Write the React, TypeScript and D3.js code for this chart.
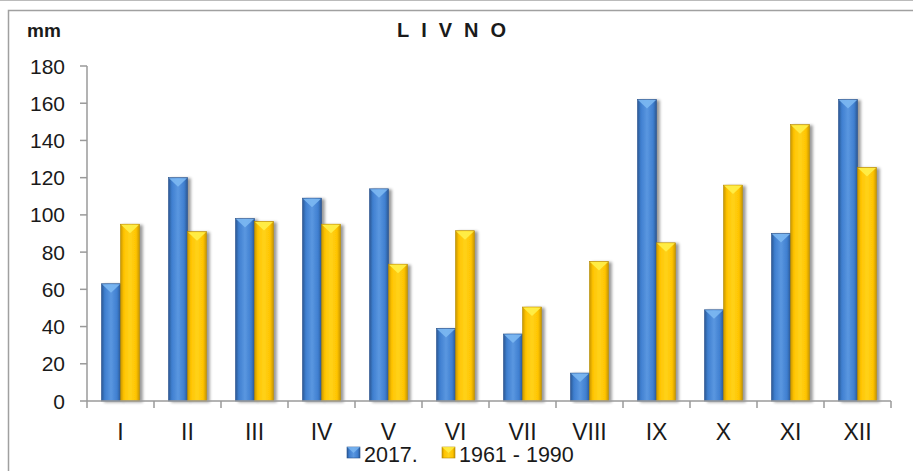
import React from "react";
import * as d3 from "d3";

const months = ["I", "II", "III", "IV", "V", "VI", "VII", "VIII", "IX", "X", "XI", "XII"];
const values2017 = [63, 120, 98, 109, 114, 39, 36, 15, 162, 49, 90, 162];
const values1961 = [95, 91, 96.5, 95, 73.5, 91.5, 50.5, 75, 85, 116, 148.5, 125.5];
const yTicks = [0, 20, 40, 60, 80, 100, 120, 140, 160, 180];
const seriesNames = ["2017.", "1961 - 1990"];

const W = 913;
const H = 471;
const left = 87;
const right = 891;
const top = 66;
const bottom = 401;

const FONT = "'Liberation Sans', Arial, sans-serif";

const colors = [
  { edge: "#2a5894", mid: "#3f7fd0", light: "#5a97e0", tri: "#7cb8f2", stroke: "#27528c" },
  { edge: "#c99600", mid: "#ffc400", light: "#ffd21a", tri: "#fff04a", stroke: "#b58a00" },
];

export default function App() {
  const x = d3.scaleBand<string>().domain(months).range([left, right]).paddingInner(0).paddingOuter(0);
  const y = d3.scaleLinear().domain([0, 180]).range([bottom, top]);
  const bw = 19;
  const series = [values2017, values1961];

  return (
    <svg width={W} height={H} style={{ display: "block", position: "absolute", left: 0, top: 0 }}>
      <defs>
        {colors.map((c, i) => (
          <linearGradient key={i} id={`g${i}`} x1="0" x2="1" y1="0" y2="0">
            <stop offset="0" stopColor={c.edge} />
            <stop offset="0.18" stopColor={c.mid} />
            <stop offset="0.5" stopColor={c.light} />
            <stop offset="0.82" stopColor={c.mid} />
            <stop offset="1" stopColor={c.edge} />
          </linearGradient>
        ))}
        <filter id="sh" x="-30%" y="-10%" width="180%" height="120%">
          <feGaussianBlur in="SourceAlpha" stdDeviation="1.6" />
          <feOffset dx="2.5" dy="1" result="b" />
          <feComponentTransfer>
            <feFuncA type="linear" slope="0.4" />
          </feComponentTransfer>
          <feMerge>
            <feMergeNode />
            <feMergeNode in="SourceGraphic" />
          </feMerge>
        </filter>
      </defs>
      <rect x={0} y={0} width={W} height={H} fill="#fff" />
      <line x1={0} x2={W} y1={0.5} y2={0.5} stroke="#bbb" strokeWidth={1} />
      <path d={`M8.5,${H} V10.5 H${W}`} fill="none" stroke="#a0a0a0" strokeWidth={1.5} />

      <text x={27} y={37} fontFamily={FONT} fontWeight="bold" fontSize={19} fill="#1a1a1a">mm</text>
      <text x={397} y={37} fontFamily={FONT} fontWeight="bold" fontSize={20} fill="#1a1a1a" letterSpacing={12}>LIVNO</text>

      {/* y axis */}
      <line x1={left} x2={left} y1={top} y2={bottom} stroke="#9a9a9a" strokeWidth={1.5} />
      {yTicks.map((t) => (
        <g key={t}>
          <line x1={left - 7} x2={left} y1={y(t)} y2={y(t)} stroke="#9a9a9a" strokeWidth={1.5} />
          <text x={65} y={y(t)} dy="0.36em" textAnchor="end" fontFamily={FONT} fontSize={21} fill="#1a1a1a">{t}</text>
        </g>
      ))}

      {/* bars */}
      {months.map((m, i) => {
        const cx = (x(m) as number) + x.bandwidth() / 2;
        return series.map((vals, s) => {
          const x0 = cx - bw + s * bw;
          const yt = y(vals[i]);
          const h = bottom - yt;
          const c = colors[s];
          const th = Math.min(9, h);
          return (
            <g key={`${m}-${s}`}>
              <rect x={x0} y={yt} width={bw} height={h} fill={`url(#g${s})`} stroke={c.stroke} strokeWidth={0.6} filter="url(#sh)" />
              <path d={`M${x0 + 0.5},${yt + 0.5} L${x0 + bw - 0.5},${yt + 0.5} L${x0 + bw / 2},${yt + th} Z`} fill={c.tri} opacity={0.9} />
            </g>
          );
        });
      })}

      {/* x axis */}
      <line x1={left} x2={right} y1={bottom} y2={bottom} stroke="#9a9a9a" strokeWidth={1.5} />
      {d3.range(months.length + 1).map((k) => {
        const xx = left + k * x.bandwidth();
        return <line key={k} x1={xx} x2={xx} y1={bottom} y2={bottom + 7} stroke="#9a9a9a" strokeWidth={1.5} />;
      })}
      {months.map((m) => (
        <text key={m} x={(x(m) as number) + x.bandwidth() / 2} y={440} textAnchor="middle" fontFamily={FONT} fontSize={23} fill="#1a1a1a">{m}</text>
      ))}

      {/* legend */}
      {seriesNames.map((n, s) => {
        const lx = s === 0 ? 347 : 442;
        const c = colors[s];
        return (
          <g key={n}>
            <rect x={lx} y={447} width={13} height={11} fill={`url(#g${s})`} stroke={c.stroke} strokeWidth={0.6} />
            <path d={`M${lx},${447} L${lx + 13},${447} L${lx + 6.5},${453} Z`} fill={c.tri} opacity={0.8} />
            <text x={lx + 17} y={462} fontFamily={FONT} fontSize={21.5} fill="#1a1a1a">{n}</text>
          </g>
        );
      })}
    </svg>
  );
}
